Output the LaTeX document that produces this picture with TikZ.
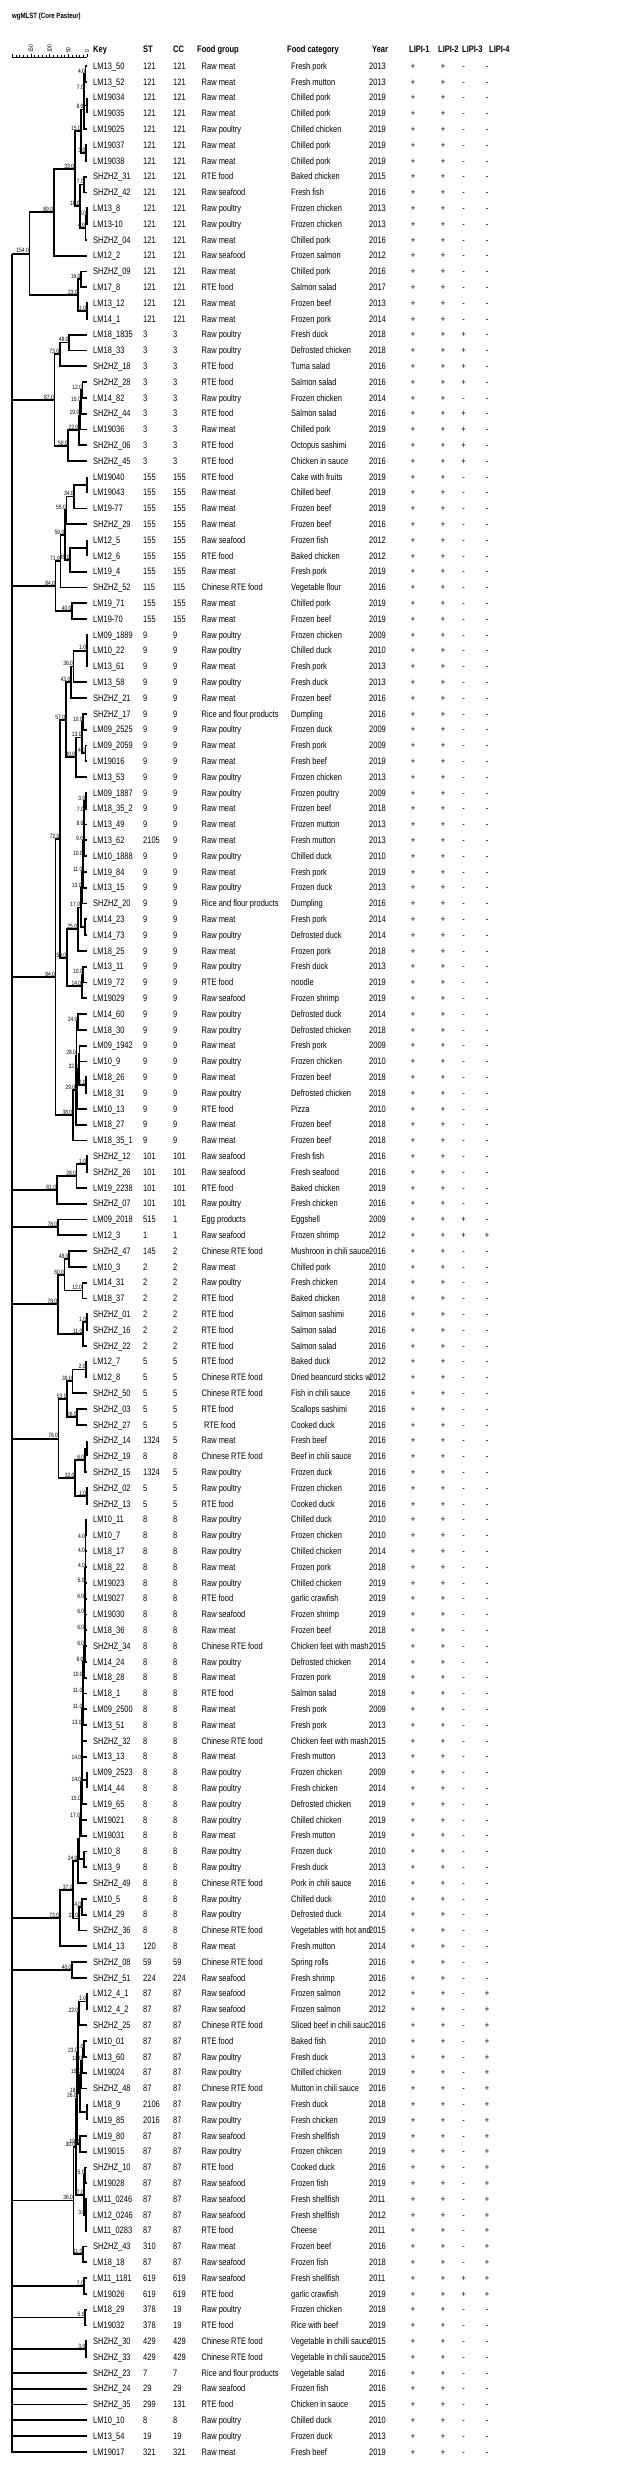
\documentclass[tikz,border=0pt]{standalone}
\usepackage{fontspec}
\setmainfont{Liberation Sans}[FakeStretch=0.8]
\usetikzlibrary{calc}
\tikzset{
 cell/.style={anchor=base west, inner sep=0pt, font=\fontsize{9.36}{10}\selectfont},
 cellc/.style={anchor=base, inner sep=0pt, font=\fontsize{9.36}{10}\selectfont},
 hdr/.style={anchor=base west, inner sep=0pt, font=\fontsize{9.36}{10}\selectfont\bfseries},
 br/.style={line width=1.8pt},
 bl/.style={anchor=south east, inner sep=0.4pt, font=\fontsize{6.2}{6.5}\selectfont},
}
\newcount\rowi
\newcommand\splitlipi[4]{%
  \node[cellc] at (413,\rb) {#1};
  \node[cellc] at (443,\rb) {#2};
  \node[cellc] at (463.5,\rb) {#3};
  \node[cellc] at (487,\rb) {#4};}
\newcommand\trow[7]{%
  \global\advance\rowi by 1
  \pgfmathsetmacro\ry{-(66+15.8*(\the\rowi-1))}%
  \pgfmathsetmacro\rb{\ry-3.35}%
  \coordinate (t\the\rowi) at (87,\ry);
  \node[cell] (k\the\rowi) at (93,\rb) {#1};
  \node[cell] (s\the\rowi) at (143,\rb) {#2};
  \node[cell] (c\the\rowi) at (173,\rb) {#3};
  \node[cell] (f\the\rowi) at (201.5,\rb) {#4};
  \node[cell] (g\the\rowi) at (291,\rb) {#5};
  \node[cell] (y\the\rowi) at (369,\rb) {#6};
  \splitlipi#7}
\newcommand\jn[5]{%
  \path let \p1=(#3), \p2=(#4) in coordinate (#1) at ({87-0.374*#2},{0.5*(\y1+\y2)});
  \draw[br] (#3) -| (#1); \draw[br] (#4) -| (#1);
  \node[bl] at (#1) {#5};}
\begin{document}
\begin{tikzpicture}[x=1pt,y=1pt]
\fill[white] (0,0) rectangle (627,-2470);
\useasboundingbox (0,0) rectangle (627,-2470);
\node[anchor=west, inner sep=0pt, font=\fontsize{7.6}{8}\selectfont\bfseries] (title) at (12,-17) {wgMLST (Core Pasteur)};
% scale bar
\draw[line width=0.6pt] (12,-57) -- (87,-57);
\foreach \i in {0,...,20} \draw[line width=0.5pt] ({87-3.74*\i},-57) -- ({87-3.74*\i},-55.3);
\foreach \i in {0,5,10,15,20} \draw[line width=0.5pt] ({87-3.74*\i},-57) -- ({87-3.74*\i},-54);
\foreach \v/\i in {0/0,50/5,100/10,150/15} \node[rotate=90, anchor=west, inner sep=0pt, font=\fontsize{6}{6.5}\selectfont] at ({87-3.74*\i},-53) {\v};
% header
\node[hdr] (hk) at (93,-52.35) {Key};
\node[hdr] (hs) at (143,-52.35) {ST};
\node[hdr] (hc) at (173,-52.35) {CC};
\node[hdr] (hf) at (197,-52.35) {Food group};
\node[hdr] (hg) at (287,-52.35) {Food category};
\node[hdr] (hy) at (372,-52.35) {Year};
\node[hdr] (l1) at (409,-52.35) {LIPI-1};
\node[hdr] (l2) at (438,-52.35) {LIPI-2};
\node[hdr] (l3) at (462,-52.35) {LIPI-3};
\node[hdr] (l4) at (489,-52.35) {LIPI-4};
% rows
\trow{LM13\_50}{121}{121}{Raw meat}{Fresh pork}{2013}{++--}
\trow{LM13\_52}{121}{121}{Raw meat}{Fresh mutton}{2013}{++--}
\trow{LM19034}{121}{121}{Raw meat}{Chilled pork}{2019}{++--}
\trow{LM19035}{121}{121}{Raw meat}{Chilled pork}{2019}{++--}
\trow{LM19025}{121}{121}{Raw poultry}{Chilled chicken}{2019}{++--}
\trow{LM19037}{121}{121}{Raw meat}{Chilled pork}{2019}{++--}
\trow{LM19038}{121}{121}{Raw meat}{Chilled pork}{2019}{++--}
\trow{SHZHZ\_31}{121}{121}{RTE food}{Baked chicken}{2015}{++--}
\trow{SHZHZ\_42}{121}{121}{Raw seafood}{Fresh fish}{2016}{++--}
\trow{LM13\_8}{121}{121}{Raw poultry}{Frozen chicken}{2013}{++--}
\trow{LM13-10}{121}{121}{Raw poultry}{Frozen chicken}{2013}{++--}
\trow{SHZHZ\_04}{121}{121}{Raw meat}{Chilled pork}{2016}{++--}
\trow{LM12\_2}{121}{121}{Raw seafood}{Frozen salmon}{2012}{++--}
\trow{SHZHZ\_09}{121}{121}{Raw meat}{Chilled pork}{2016}{++--}
\trow{LM17\_8}{121}{121}{RTE food}{Salmon salad}{2017}{++--}
\trow{LM13\_12}{121}{121}{Raw meat}{Frozen beef}{2013}{++--}
\trow{LM14\_1}{121}{121}{Raw meat}{Frozen pork}{2014}{++--}
\trow{LM18\_1835}{3}{3}{Raw poultry}{Fresh duck}{2018}{+++-}
\trow{LM18\_33}{3}{3}{Raw poultry}{Defrosted chicken}{2018}{+++-}
\trow{SHZHZ\_18}{3}{3}{RTE food}{Tuma salad}{2016}{+++-}
\trow{SHZHZ\_28}{3}{3}{RTE food}{Salmon salad}{2016}{+++-}
\trow{LM14\_82}{3}{3}{Raw poultry}{Frozen chicken}{2014}{++--}
\trow{SHZHZ\_44}{3}{3}{RTE food}{Salmon salad}{2016}{+++-}
\trow{LM19036}{3}{3}{Raw meat}{Chilled pork}{2019}{+++-}
\trow{SHZHZ\_06}{3}{3}{RTE food}{Octopus sashimi}{2016}{+++-}
\trow{SHZHZ\_45}{3}{3}{RTE food}{Chicken in sauce}{2016}{+++-}
\trow{LM19040}{155}{155}{RTE food}{Cake with fruits}{2019}{++--}
\trow{LM19043}{155}{155}{Raw meat}{Chilled beef}{2019}{++--}
\trow{LM19-77}{155}{155}{Raw meat}{Frozen beef}{2019}{++--}
\trow{SHZHZ\_29}{155}{155}{Raw meat}{Frozen beef}{2016}{++--}
\trow{LM12\_5}{155}{155}{Raw seafood}{Frozen fish}{2012}{++--}
\trow{LM12\_6}{155}{155}{RTE food}{Baked chicken}{2012}{++--}
\trow{LM19\_4}{155}{155}{Raw meat}{Fresh pork}{2019}{++--}
\trow{SHZHZ\_52}{115}{115}{Chinese RTE food}{Vegetable flour}{2016}{++--}
\trow{LM19\_71}{155}{155}{Raw meat}{Chilled pork}{2019}{++--}
\trow{LM19-70}{155}{155}{Raw meat}{Frozen beef}{2019}{++--}
\trow{LM09\_1889}{9}{9}{Raw poultry}{Frozen chicken}{2009}{++--}
\trow{LM10\_22}{9}{9}{Raw poultry}{Chilled duck}{2010}{++--}
\trow{LM13\_61}{9}{9}{Raw meat}{Fresh pork}{2013}{++--}
\trow{LM13\_58}{9}{9}{Raw poultry}{Fresh duck}{2013}{++--}
\trow{SHZHZ\_21}{9}{9}{Raw meat}{Frozen beef}{2016}{++--}
\trow{SHZHZ\_17}{9}{9}{Rice and flour products}{Dumpling}{2016}{++--}
\trow{LM09\_2525}{9}{9}{Raw poultry}{Frozen duck}{2009}{++--}
\trow{LM09\_2059}{9}{9}{Raw meat}{Fresh pork}{2009}{++--}
\trow{LM19016}{9}{9}{Raw meat}{Fresh beef}{2019}{++--}
\trow{LM13\_53}{9}{9}{Raw poultry}{Frozen chicken}{2013}{++--}
\trow{LM09\_1887}{9}{9}{Raw poultry}{Frozen poultry}{2009}{++--}
\trow{LM18\_35\_2}{9}{9}{Raw meat}{Frozen beef}{2018}{++--}
\trow{LM13\_49}{9}{9}{Raw meat}{Frozen mutton}{2013}{++--}
\trow{LM13\_62}{2105}{9}{Raw meat}{Fresh mutton}{2013}{++--}
\trow{LM10\_1888}{9}{9}{Raw poultry}{Chilled duck}{2010}{++--}
\trow{LM19\_84}{9}{9}{Raw meat}{Fresh pork}{2019}{++--}
\trow{LM13\_15}{9}{9}{Raw poultry}{Frozen duck}{2013}{++--}
\trow{SHZHZ\_20}{9}{9}{Rice and flour products}{Dumpling}{2016}{++--}
\trow{LM14\_23}{9}{9}{Raw meat}{Fresh pork}{2014}{++--}
\trow{LM14\_73}{9}{9}{Raw poultry}{Defrosted duck}{2014}{++--}
\trow{LM18\_25}{9}{9}{Raw meat}{Frozen pork}{2018}{++--}
\trow{LM13\_11}{9}{9}{Raw poultry}{Fresh duck}{2013}{++--}
\trow{LM19\_72}{9}{9}{RTE food}{noodle}{2019}{++--}
\trow{LM19029}{9}{9}{Raw seafood}{Frozen shrimp}{2019}{++--}
\trow{LM14\_60}{9}{9}{Raw poultry}{Defrosted duck}{2014}{++--}
\trow{LM18\_30}{9}{9}{Raw poultry}{Defrosted chicken}{2018}{++--}
\trow{LM09\_1942}{9}{9}{Raw meat}{Fresh pork}{2009}{++--}
\trow{LM10\_9}{9}{9}{Raw poultry}{Frozen chicken}{2010}{++--}
\trow{LM18\_26}{9}{9}{Raw meat}{Frozen beef}{2018}{++--}
\trow{LM18\_31}{9}{9}{Raw poultry}{Defrosted chicken}{2018}{++--}
\trow{LM10\_13}{9}{9}{RTE food}{Pizza}{2010}{++--}
\trow{LM18\_27}{9}{9}{Raw meat}{Frozen beef}{2018}{++--}
\trow{LM18\_35\_1}{9}{9}{Raw meat}{Frozen beef}{2018}{++--}
\trow{SHZHZ\_12}{101}{101}{Raw seafood}{Fresh fish}{2016}{++--}
\trow{SHZHZ\_26}{101}{101}{Raw seafood}{Fresh seafood}{2016}{++--}
\trow{LM19\_2238}{101}{101}{RTE food}{Baked chicken}{2019}{++--}
\trow{SHZHZ\_07}{101}{101}{Raw poultry}{Fresh chicken}{2016}{++--}
\trow{LM09\_2018}{515}{1}{Egg products}{Eggshell}{2009}{+++-}
\trow{LM12\_3}{1}{1}{Raw seafood}{Frozen shrimp}{2012}{++++}
\trow{SHZHZ\_47}{145}{2}{Chinese RTE food}{Mushroon in chili sauce}{2016}{++--}
\trow{LM10\_3}{2}{2}{Raw meat}{Chilled pork}{2010}{++--}
\trow{LM14\_31}{2}{2}{Raw poultry}{Fresh chicken}{2014}{++--}
\trow{LM18\_37}{2}{2}{RTE food}{Baked chicken}{2018}{++--}
\trow{SHZHZ\_01}{2}{2}{RTE food}{Salmon sashimi}{2016}{++--}
\trow{SHZHZ\_16}{2}{2}{RTE food}{Salmon salad}{2016}{++--}
\trow{SHZHZ\_22}{2}{2}{RTE food}{Salmon salad}{2016}{++--}
\trow{LM12\_7}{5}{5}{RTE food}{Baked duck}{2012}{++--}
\trow{LM12\_8}{5}{5}{Chinese RTE food}{Dried beancurd sticks w}{2012}{++--}
\trow{SHZHZ\_50}{5}{5}{Chinese RTE food}{Fish in chili sauce}{2016}{++--}
\trow{SHZHZ\_03}{5}{5}{RTE food}{Scallops sashimi}{2016}{++--}
\trow{SHZHZ\_27}{5}{5}{\hspace{2.3pt}RTE food}{Cooked duck}{2016}{++--}
\trow{SHZHZ\_14}{1324}{5}{Raw meat}{Fresh beef}{2016}{++--}
\trow{SHZHZ\_19}{8}{8}{Chinese RTE food}{Beef in chili sauce}{2016}{++--}
\trow{SHZHZ\_15}{1324}{5}{Raw poultry}{Frozen duck}{2016}{++--}
\trow{SHZHZ\_02}{5}{5}{Raw poultry}{Frozen chicken}{2016}{++--}
\trow{SHZHZ\_13}{5}{5}{RTE food}{Cooked duck}{2016}{++--}
\trow{LM10\_11}{8}{8}{Raw poultry}{Chilled duck}{2010}{++--}
\trow{LM10\_7}{8}{8}{Raw poultry}{Frozen chicken}{2010}{++--}
\trow{LM18\_17}{8}{8}{Raw poultry}{Chilled chicken}{2014}{++--}
\trow{LM18\_22}{8}{8}{Raw meat}{Frozen pork}{2018}{++--}
\trow{LM19023}{8}{8}{Raw poultry}{Chilled chicken}{2019}{++--}
\trow{LM19027}{8}{8}{RTE food}{garlic crawfish}{2019}{++--}
\trow{LM19030}{8}{8}{Raw seafood}{Frozen shrimp}{2019}{++--}
\trow{LM18\_36}{8}{8}{Raw meat}{Frozen beef}{2018}{++--}
\trow{SHZHZ\_34}{8}{8}{Chinese RTE food}{Chicken feet with mash.}{2015}{++--}
\trow{LM14\_24}{8}{8}{Raw poultry}{Defrosted chicken}{2014}{++--}
\trow{LM18\_28}{8}{8}{Raw meat}{Frozen pork}{2018}{++--}
\trow{LM18\_1}{8}{8}{RTE food}{Salmon salad}{2018}{++--}
\trow{LM09\_2500}{8}{8}{Raw meat}{Fresh pork}{2009}{++--}
\trow{LM13\_51}{8}{8}{Raw meat}{Fresh pork}{2013}{++--}
\trow{SHZHZ\_32}{8}{8}{Chinese RTE food}{Chicken feet with mash.}{2015}{++--}
\trow{LM13\_13}{8}{8}{Raw meat}{Fresh mutton}{2013}{++--}
\trow{LM09\_2523}{8}{8}{Raw poultry}{Frozen chicken}{2009}{++--}
\trow{LM14\_44}{8}{8}{Raw poultry}{Fresh chicken}{2014}{++--}
\trow{LM19\_65}{8}{8}{Raw poultry}{Defrosted chicken}{2019}{++--}
\trow{LM19021}{8}{8}{Raw poultry}{Chilled chicken}{2019}{++--}
\trow{LM19031}{8}{8}{Raw meat}{Fresh mutton}{2019}{++--}
\trow{LM10\_8}{8}{8}{Raw poultry}{Frozen duck}{2010}{++--}
\trow{LM13\_9}{8}{8}{Raw poultry}{Fresh duck}{2013}{++--}
\trow{SHZHZ\_49}{8}{8}{Chinese RTE food}{Pork in chili sauce}{2016}{++--}
\trow{LM10\_5}{8}{8}{Raw poultry}{Chilled duck}{2010}{++--}
\trow{LM14\_29}{8}{8}{Raw poultry}{Defrosted duck}{2014}{++--}
\trow{SHZHZ\_36}{8}{8}{Chinese RTE food}{Vegetables with hot and}{2015}{++--}
\trow{LM14\_13}{120}{8}{Raw meat}{Fresh mutton}{2014}{++--}
\trow{SHZHZ\_08}{59}{59}{Chinese RTE food}{Spring rolls}{2016}{++--}
\trow{SHZHZ\_51}{224}{224}{Raw seafood}{Fresh shrimp}{2016}{++--}
\trow{LM12\_4\_1}{87}{87}{Raw seafood}{Frozen salmon}{2012}{++-+}
\trow{LM12\_4\_2}{87}{87}{Raw seafood}{Frozen salmon}{2012}{++-+}
\trow{SHZHZ\_25}{87}{87}{Chinese RTE food}{Sliced beef in chili sauc}{2016}{++-+}
\trow{LM10\_01}{87}{87}{RTE food}{Baked fish}{2010}{++-+}
\trow{LM13\_60}{87}{87}{Raw poultry}{Fresh duck}{2013}{++-+}
\trow{LM19024}{87}{87}{Raw poultry}{Chilled chicken}{2019}{++-+}
\trow{SHZHZ\_48}{87}{87}{Chinese RTE food}{Mutton in chili sauce}{2016}{++-+}
\trow{LM18\_9}{2106}{87}{Raw poultry}{Fresh duck}{2018}{++-+}
\trow{LM19\_85}{2016}{87}{Raw poultry}{Fresh chicken}{2019}{++-+}
\trow{LM19\_80}{87}{87}{Raw seafood}{Fresh shellfish}{2019}{++-+}
\trow{LM19015}{87}{87}{Raw poultry}{Frozen chikcen}{2019}{++-+}
\trow{SHZHZ\_10}{87}{87}{RTE food}{Cooked duck}{2016}{++-+}
\trow{LM19028}{87}{87}{Raw seafood}{Frozen fish}{2019}{++-+}
\trow{LM11\_0246}{87}{87}{Raw seafood}{Fresh shellfish}{2011}{++-+}
\trow{LM12\_0246}{87}{87}{Raw seafood}{Fresh shellfish}{2012}{++-+}
\trow{LM11\_0283}{87}{87}{RTE food}{Cheese}{2011}{++-+}
\trow{SHZHZ\_43}{310}{87}{Raw meat}{Frozen beef}{2016}{++-+}
\trow{LM18\_18}{87}{87}{Raw seafood}{Frozen fish}{2018}{++-+}
\trow{LM11\_1181}{619}{619}{Raw seafood}{Fresh shellfish}{2011}{++++}
\trow{LM19026}{619}{619}{RTE food}{garlic crawfish}{2019}{++++}
\trow{LM18\_29}{378}{19}{Raw poultry}{Frozen chicken}{2018}{++--}
\trow{LM19032}{378}{19}{RTE food}{Rice with beef}{2019}{++--}
\trow{SHZHZ\_30}{429}{429}{Chinese RTE food}{Vegetable in chilli sauce}{2015}{++--}
\trow{SHZHZ\_33}{429}{429}{Chinese RTE food}{Vegetable in chili sauce}{2015}{++--}
\trow{SHZHZ\_23}{7}{7}{Rice and flour products}{Vegetable salad}{2016}{++--}
\trow{SHZHZ\_24}{29}{29}{Raw seafood}{Frozen fish}{2016}{++--}
\trow{SHZHZ\_35}{299}{131}{RTE food}{Chicken in sauce}{2015}{++--}
\trow{LM10\_10}{8}{8}{Raw poultry}{Chilled duck}{2010}{++--}
\trow{LM13\_54}{19}{19}{Raw poultry}{Frozen duck}{2013}{++--}
\trow{LM19017}{321}{321}{Raw meat}{Fresh beef}{2019}{++--}
% ---- tree: ST121
\jn{a1}{4}{t1}{t2}{4.0}
\jn{a2}{0}{t3}{t4}{}
\jn{a3}{7}{a1}{a2}{7.0}
\jn{a4}{8}{a3}{t5}{8.0}
\jn{a5}{3}{t6}{t7}{3.0}
\jn{a6}{15}{a4}{a5}{15.0}
\jn{b1}{7}{t8}{t9}{7.0}
\jn{b2}{1}{t10}{t11}{8.0}
\jn{b3}{4}{b2}{t12}{4.0}
\jn{b4}{18}{b1}{b3}{18.0}
\jn{c1}{33}{a6}{b4}{33.0}
\jn{c2}{89}{c1}{t13}{89.0}
\jn{d1}{16}{t14}{t15}{16.0}
\jn{d2}{1}{t16}{t17}{1.0}
\jn{d3}{23}{d1}{d2}{23.0}
\jn{G121}{154}{c2}{d3}{154.0}
% ST3
\jn{e1}{48}{t18}{t19}{48.0}
\jn{e2}{73}{e1}{t20}{73.0}
\jn{e3}{12}{t21}{t22}{12.0}
\jn{e4}{15}{e3}{t23}{15.0}
\jn{e5}{19}{e4}{t24}{19.0}
\jn{e6}{22}{e5}{t25}{22.0}
\jn{e7}{50}{e6}{t26}{50.0}
\jn{G3}{87}{e2}{e7}{87.0}
% ST155
\jn{f1}{0}{t27}{t28}{}
\jn{f2}{34}{f1}{t29}{34.0}
\jn{f3}{55}{f2}{t30}{55.0}
\jn{f4}{0}{t31}{t32}{}
\jn{f5}{45}{f4}{t33}{45.0}
\jn{f6}{59}{f3}{f5}{59.0}
\jn{f7}{71}{f6}{t34}{71.0}
\jn{f8}{40}{t35}{t36}{40.0}
\jn{G155}{84}{f7}{f8}{84.0}
% ST9
\jn{h1}{1}{t37}{t39}{1.0}
\draw[br] (t38) -| (h1);
\jn{h2}{36}{h1}{t40}{36.0}
\jn{h3}{43}{h2}{t41}{43.0}
\jn{h4}{10}{t42}{t43}{10.0}
\jn{h5}{4}{t44}{t45}{4.0}
\jn{h6}{13}{h4}{h5}{13.0}
\jn{h7}{30}{h6}{t46}{30.0}
\jn{h8}{57}{h3}{h7}{57.0}
\jn{i1}{3}{t47}{t48}{3.0}
\jn{i2}{7}{i1}{t49}{7.0}
\jn{i3}{8}{i2}{t50}{8.0}
\jn{i4}{9}{i3}{t51}{9.0}
\jn{i5}{10}{i4}{t52}{10.0}
\jn{i6}{11}{i5}{t53}{11.0}
\jn{i7}{13}{i6}{t54}{13.0}
\jn{i8}{5}{t55}{t56}{}
\jn{i9}{17}{i7}{i8}{17.0}
\jn{i10}{25}{i9}{t57}{25.0}
\jn{i11}{10}{t58}{t59}{10.0}
\jn{i12}{14}{i11}{t60}{14.0}
\jn{i13}{54}{i10}{i12}{54.0}
\jn{h9}{72}{h8}{i13}{72.0}
\jn{j1}{24}{t61}{t62}{24.0}
\jn{j2}{20}{t63}{t64}{}
\jn{j3}{2}{t65}{t66}{2.0}
\jn{j4}{22}{j2}{j3}{32.0}
\jn{j5}{26}{j4}{t67}{}
\jn{j6}{28}{j1}{j5}{28.0}
\jn{j7}{30}{j6}{t68}{29.0}
\jn{j8}{38}{j7}{t69}{38.0}
\jn{G9}{84}{h9}{j8}{84.0}
% ST101
\jn{k1x}{1}{t70}{t71}{1.0}
\jn{k2x}{28}{k1x}{t72}{28.0}
\jn{G101}{81}{k2x}{t73}{81.0}
% ST1
\jn{G1}{78}{t74}{t75}{78.0}
% ST2
\jn{m1}{48}{t76}{t77}{48.0}
\jn{m2}{12}{t78}{t79}{12.0}
\jn{m3}{60}{m1}{m2}{60.0}
\jn{m4}{1}{t80}{t81}{1.0}
\jn{m5}{11}{m4}{t82}{11.0}
\jn{G2}{78}{m3}{m5}{78.0}
% ST5
\jn{n1}{2}{t83}{t84}{2.0}
\jn{n2}{39}{n1}{t85}{39.0}
\jn{n3}{26}{t86}{t87}{26.0}
\jn{n4}{53}{n2}{n3}{53.0}
\jn{n5}{0}{t88}{t89}{}
\jn{n6}{6}{n5}{t90}{6.0}
\jn{n7}{1}{t91}{t92}{1.0}
\jn{n8}{32}{n6}{n7}{32.0}
\jn{G5}{76}{n4}{n8}{76.0}
% ST8
\jn{o1}{2}{t93}{t94}{}
\jn{o2}{4}{o1}{t95}{4.0}
\jn{o3}{4}{o2}{t96}{4.0}
\jn{o4}{4}{o3}{t97}{4.0}
\jn{o5}{5}{o4}{t98}{5.0}
\jn{o6}{6}{o5}{t99}{6.0}
\jn{o7}{6}{o6}{t100}{6.0}
\jn{o8}{6}{o7}{t101}{6.0}
\jn{o9}{6}{o8}{t102}{6.0}
\jn{o10}{8}{o9}{t103}{8.0}
\jn{o11}{10}{o10}{t104}{10.0}
\jn{o12}{11}{o11}{t105}{11.0}
\jn{o13}{11}{o12}{t106}{11.0}
\jn{o14}{13}{o13}{t107}{13.0}
\jn{o15}{13}{o14}{t108}{}
\jn{p1}{0}{t109}{t110}{}
\jn{o16}{14}{o15}{p1}{14.0}
\jn{o17}{14}{o16}{t111}{14.0}
\jn{o18}{15}{o17}{t112}{15.0}
\jn{o19}{17}{o18}{t113}{17.0}
\jn{p2}{8}{t114}{t115}{}
\jn{o20}{20}{o19}{p2}{}
\jn{o21}{24}{o20}{t116}{24.0}
\jn{q1}{14}{t117}{t118}{14.0}
\jn{q2}{22}{q1}{t119}{22.0}
\jn{o22}{37}{o21}{q2}{37.0}
\jn{G8}{73}{o22}{t120}{73.0}
% ST59/224
\jn{G59}{40}{t121}{t122}{40.0}
% ST87
\jn{r1x}{1}{t123}{t124}{1.0}
\jn{r2x}{22}{r1x}{t125}{22.0}
\jn{r3x}{8}{t126}{t127}{8.0}
\jn{r4x}{12}{r3x}{t128}{12.0}
\jn{r5x}{15}{r4x}{t129}{15.0}
\jn{r6x}{0}{t130}{t131}{}
\jn{r7x}{18}{r5x}{r6x}{18.0}
\jn{r8x}{23}{r2x}{r7x}{23.0}
\jn{r9x}{19}{t132}{t133}{19.0}
\jn{r10x}{26}{r8x}{r9x}{26.0}
\jn{r11x}{5}{t134}{t135}{5.0}
\jn{r12x}{3}{t136}{t138}{3.0}
\draw[br] (t137) -| (r12x);
\jn{r13x}{7}{r11x}{r12x}{7.0}
\jn{r14x}{30}{r10x}{r13x}{30.0}
\jn{r15x}{11}{t139}{t140}{11.0}
\jn{G87}{36}{r14x}{r15x}{36.0}
% small pairs
\jn{G619}{7}{t141}{t142}{7.0}
\jn{G378}{5}{t143}{t144}{5.0}
\jn{G429}{3}{t145}{t146}{3.0}
% root comb
\path let \p1=(G121) in coordinate (root) at (12,\y1);
\foreach \c in {G121,G3,G155,G9,G101,G1,G2,G5,G8,G59,G87,G619,G378,G429,t147,t148,t149,t150,t151,t152}
  \draw[br] (\c) -| (root);
\end{tikzpicture}
\end{document}
